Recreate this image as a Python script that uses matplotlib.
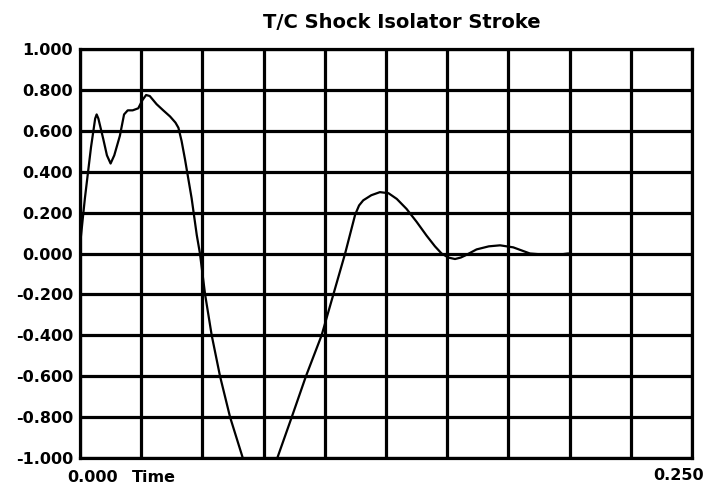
import matplotlib
matplotlib.use("Agg")
import matplotlib.pyplot as plt
import numpy as np

# stroke trace (time in s, stroke)
time_s = [0.0000, 0.0020, 0.0045, 0.0062, 0.0068, 0.0075, 0.0095, 0.0110, 0.0125,
          0.0140, 0.0163, 0.0180, 0.0195, 0.0215, 0.0238, 0.0255, 0.0270, 0.0285,
          0.0313, 0.0340, 0.0368, 0.0390, 0.0402, 0.0415, 0.0429, 0.0456, 0.0477,
          0.0490, 0.0511, 0.0538, 0.0572, 0.0613, 0.0665, 0.0700, 0.0735, 0.0770,
          0.0806, 0.0865, 0.0923, 0.0987, 0.1035, 0.1083, 0.1124, 0.1140, 0.1157,
          0.1190, 0.1225, 0.1260, 0.1294, 0.1334, 0.1375, 0.1416, 0.1450, 0.1477,
          0.1505, 0.1532, 0.1555, 0.1573, 0.1620, 0.1670, 0.1716, 0.1770, 0.1838,
          0.1892, 0.1960, 0.1993]
stroke = [0.04, 0.27, 0.52, 0.66, 0.68, 0.66, 0.56, 0.48, 0.44,
          0.48, 0.576, 0.68, 0.70, 0.70, 0.71, 0.75, 0.775, 0.77,
          0.73, 0.70, 0.67, 0.64, 0.615, 0.55, 0.46, 0.27, 0.09,
          0.00, -0.20, -0.40, -0.60, -0.80, -1.00, -1.10, -1.13, -1.10,
          -1.00, -0.80, -0.60, -0.40, -0.20, 0.00, 0.19, 0.235, 0.26,
          0.285, 0.30, 0.295, 0.267, 0.218, 0.155, 0.087, 0.035, 0.00,
          -0.02, -0.027, -0.02, -0.01, 0.02, 0.035, 0.04, 0.03, 0.00,
          -0.005, -0.005, 0.00]

y_ticks = np.arange(-1.0, 1.0001, 0.2)
x_ticks = np.arange(0.0, 0.2501, 0.025)

fig = plt.figure(figsize=(7.08, 4.92), dpi=100)
ax = fig.add_axes([80 / 708, 1 - 458 / 492, 612 / 708, 409 / 492])

ax.plot(time_s, stroke, color="black", lw=1.6, zorder=3)

ax.set_xlim(0, 0.25)
ax.set_ylim(-1.0, 1.0)
ax.set_xticks(x_ticks)
ax.set_yticks(y_ticks)
ax.set_yticklabels(["%.3f" % v if abs(v) > 1e-9 else "0.000" for v in y_ticks],
                   fontsize=11.5, fontweight="bold")
ax.set_xticklabels([])
ax.tick_params(length=0, pad=5)
ax.grid(True, color="black", lw=2.3)
for s in ax.spines.values():
    s.set_linewidth(2.3)

fig.text(402 / 708, 1 - 22 / 492, "T/C Shock Isolator Stroke", ha="center", va="center",
         fontsize=14, fontweight="bold")
fig.text(67 / 708, 1 - 477 / 492, "0.000", ha="left", va="center", fontsize=11.5, fontweight="bold")
fig.text(132 / 708, 1 - 477 / 492, "Time", ha="left", va="center", fontsize=11.5, fontweight="bold")
fig.text(704 / 708, 1 - 476 / 492, "0.250", ha="right", va="center", fontsize=11.5, fontweight="bold")

fig.savefig("out.png", dpi=100)
